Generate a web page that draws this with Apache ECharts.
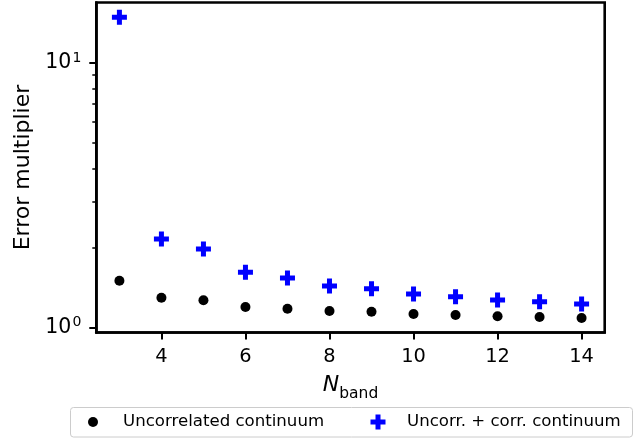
<!DOCTYPE html>
<html>
<head>
<meta charset="utf-8">
<script src="https://cdn.jsdelivr.net/npm/echarts@6/dist/echarts.min.js"></script>
<style>
  html, body { margin: 0; padding: 0; background: #fff; }
  #chart { width: 644px; height: 438px; }
</style>
</head>
<body>
<div id="chart"></div>
<script>
// Number of bands
const nBand = [3, 4, 5, 6, 7, 8, 9, 10, 11, 12, 13, 14];
// Error multiplier, uncorrelated continuum only
const uncorrelated = [1.505, 1.298, 1.269, 1.197, 1.180, 1.156, 1.149, 1.126, 1.117, 1.104, 1.098, 1.088];
// Error multiplier, uncorrelated + correlated continuum
const combined = [14.9, 2.163, 1.983, 1.620, 1.540, 1.437, 1.404, 1.341, 1.310, 1.273, 1.254, 1.229];

const xTicks = [4, 6, 8, 10, 12, 14];
const yMajorTicks = [1, 10];
const yMinorTicks = [2, 3, 4, 5, 6, 7, 8, 9];

const seriesNames = ['Uncorrelated continuum', 'Uncorr. + corr. continuum'];

const FONT = 'DejaVu Sans';
const Y_MIN = 0.9591, Y_MAX = 16.93;
const PLUS = 'path://M5,0H10V5H15V10H10V15H5V10H0V5H5Z';

const chart = echarts.init(document.getElementById('chart'), null, { renderer: 'canvas' });

const pairs = (ys) => nBand.map((x, i) => [x, ys[i]]);

chart.setOption({
  backgroundColor: '#ffffff',
  animation: false,
  textStyle: { fontFamily: FONT },
  grid: {
    left: 96.3, right: 39.3, top: 2.5, bottom: 105.5,
    show: true, borderColor: '#000', borderWidth: 2.6, backgroundColor: 'transparent'
  },
  xAxis: {
    type: 'value', min: 2.45, max: 14.55,
    axisLine: { show: true, onZero: false, lineStyle: { color: '#000', width: 2.6 } },
    axisTick: { show: true, customValues: xTicks, length: 7, lineStyle: { color: '#000', width: 2 } },
    axisLabel: { show: true, customValues: xTicks, margin: 15, color: '#000', fontSize: 19.4, fontFamily: FONT },
    splitLine: { show: false },
    name: '{n|N}{s|band}',
    nameLocation: 'middle',
    nameGap: 38,
    nameTextStyle: {
      rich: {
        n: { fontSize: 22, fontStyle: 'italic', fontFamily: FONT, color: '#000', verticalAlign: 'bottom', lineHeight: 26 },
        s: { fontSize: 15.5, fontFamily: FONT, color: '#000', verticalAlign: 'bottom', lineHeight: 18, padding: [0, 0, -5, 0] }
      }
    }
  },
  yAxis: [
    {
      type: 'log', logBase: 10, min: Y_MIN, max: Y_MAX,
      axisLine: { show: true, onZero: false, lineStyle: { color: '#000', width: 2.6 } },
      axisTick: { show: true, customValues: yMajorTicks, length: 7, lineStyle: { color: '#000', width: 2 } },
      axisLabel: {
        show: true, customValues: yMajorTicks, margin: 15,
        formatter: (v) => '{b|10}{s|' + Math.round(Math.log10(v)) + '}',
        rich: {
          b: { fontSize: 20.5, fontFamily: FONT, color: '#000', lineHeight: 24 },
          s: { fontSize: 14, fontFamily: FONT, color: '#000', verticalAlign: 'top', lineHeight: 16, padding: [0, 0, 8, 1] }
        }
      },
      splitLine: { show: false },
      name: 'Error multiplier',
      nameLocation: 'middle',
      nameGap: 62,
      nameTextStyle: { fontSize: 22, fontFamily: FONT, color: '#000' }
    },
    {
      // minor ticks of the log axis
      type: 'log', logBase: 10, min: Y_MIN, max: Y_MAX,
      position: 'left',
      axisLine: { show: false },
      axisTick: { show: true, customValues: yMinorTicks, length: 4, lineStyle: { color: '#000', width: 1.5 } },
      axisLabel: { show: false },
      splitLine: { show: false }
    }
  ],
  legend: [
    {
      data: [seriesNames[0]],
      left: 88, top: 413.5, padding: 0,
      itemWidth: 10, itemHeight: 10,
      itemStyle: { opacity: 1 },
      textStyle: { fontSize: 16.6, fontFamily: FONT, color: '#000', padding: [0, 0, 0, 20] }
    },
    {
      data: [seriesNames[1]],
      left: 370.5, top: 413.5, padding: 0,
      itemWidth: 15, itemHeight: 15,
      itemStyle: { opacity: 1 },
      textStyle: { fontSize: 16.6, fontFamily: FONT, color: '#000', padding: [0, 0, 0, 16.5] }
    }
  ],
  graphic: [
    {
      type: 'rect', z: -1,
      shape: { x: 70.5, y: 407.5, width: 562, height: 29.5, r: 3 },
      style: { fill: 'rgba(255,255,255,0.8)', stroke: '#cccccc', lineWidth: 1 }
    }
  ],
  series: [
    {
      name: seriesNames[0], type: 'scatter', yAxisIndex: 0,
      symbol: 'circle', symbolSize: 10,
      itemStyle: { color: '#000000', opacity: 1 },
      data: pairs(uncorrelated)
    },
    {
      name: seriesNames[1], type: 'scatter', yAxisIndex: 0,
      symbol: PLUS, symbolSize: 15,
      itemStyle: { color: '#0000ff', opacity: 1 },
      data: pairs(combined)
    }
  ]
});
</script>
</body>
</html>
